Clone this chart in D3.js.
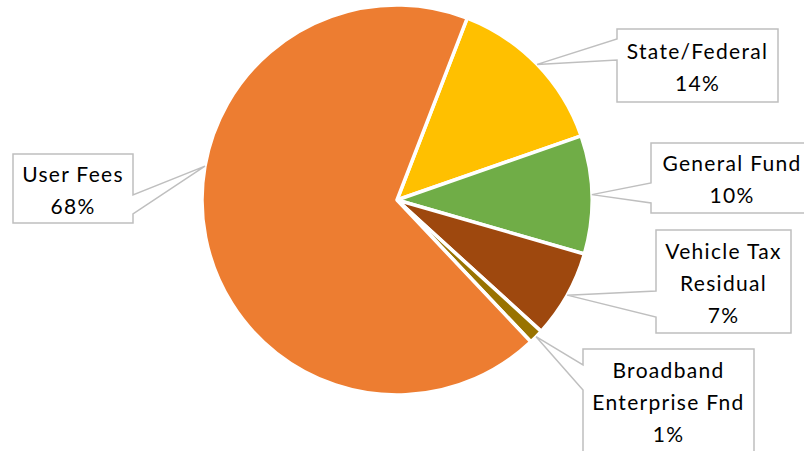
<!DOCTYPE html>
<html>
<head>
<meta charset="utf-8">
<script src="https://cdn.jsdelivr.net/npm/d3@7"></script>
<style>
	body { margin: 0; background: #fff; }
	svg { display: block; }
</style>
</head>
<body>
<svg id="chart" width="804" height="451"></svg>
<script>
// data, clockwise from the first slice
const categories = ["State/Federal", "General Fund", "Vehicle Tax Residual", "Broadband Enterprise Fnd", "User Fees"]
const values = [13.8, 9.8, 7.3, 1.2, 67.9]
const labelLines = [["State/Federal"], ["General Fund"], ["Vehicle Tax", "Residual"], ["Broadband", "Enterprise Fnd"], ["User Fees"]]
const colors = ["#FFC000", "#70AD47", "#9E480E", "#997300", "#ED7D31"]

// callout layout: box [x, y, w, h], which side the pointer leaves from, pointer base span, optional tip angle
const callouts = [
	{box: [617, 29, 161, 73], side: "left", base: [39, 60]},
	{box: [651, 143, 162, 70], side: "left", base: [183, 203]},
	{box: [656, 230, 135, 103], side: "left", base: [291, 317]},
	{box: [583, 349, 171, 120], side: "left", base: [365, 390], textMid: 402},
	{box: [13, 154, 120, 69], side: "right", base: [195, 214], tipAngle: 280}
]

const svg = d3.select("#chart"),
cx = 397, cy = 200, radius = 195,
lineH = 32,
rad = deg => deg * Math.PI / 180

const pie = d3.pie().sort(null).value(d => d.value).startAngle(rad(21.1)).endAngle(rad(21.1 + 360))
const arc = d3.arc().innerRadius(0).outerRadius(radius)
const total = d3.sum(values)
const slices = pie(categories.map((c, i) => ({name: c, value: values[i], lines: labelLines[i], color: colors[i], callout: callouts[i]})))

const g = svg.append("g").attr("transform", `translate(${cx},${cy})`)
g.selectAll("path")
	.data(slices)
	.enter().append("path")
	.attr("d", arc)
	.attr("fill", d => d.data.color)
	.attr("stroke", "#fff")
	.attr("stroke-width", 3.5)
	.attr("stroke-linejoin", "round")

// callout boxes with pointer
const labels = svg.append("g").selectAll("g")
	.data(slices)
	.enter().append("g")

labels.append("path")
	.attr("fill", "#fff")
	.attr("stroke", "#BFBFBF")
	.attr("stroke-width", 1.5)
	.attr("d", d => {
		const c = d.data.callout,
		[x, y, w, h] = c.box,
		ang = c.tipAngle !== undefined ? rad(c.tipAngle) : (d.startAngle + d.endAngle) / 2,
		tx = cx + radius * Math.sin(ang), ty = cy - radius * Math.cos(ang),
		p = d3.path()
		if (c.side === "left") {
			p.moveTo(x, c.base[0]); p.lineTo(x, y); p.lineTo(x + w, y); p.lineTo(x + w, y + h)
			p.lineTo(x, y + h); p.lineTo(x, c.base[1]); p.lineTo(tx, ty); p.closePath()
		} else {
			p.moveTo(x + w, c.base[0]); p.lineTo(x + w, y); p.lineTo(x, y); p.lineTo(x, y + h)
			p.lineTo(x + w, y + h); p.lineTo(x + w, c.base[1]); p.lineTo(tx, ty); p.closePath()
		}
		return p.toString()
	})

labels.append("text")
	.attr("text-anchor", "middle")
	.attr("font-family", "Lato, 'Open Sans', sans-serif")
	.attr("font-size", 21)
	.attr("letter-spacing", 1.3)
	.attr("fill", "#000")
	.each(function(d){
		const c = d.data.callout,
		[x, y, w, h] = c.box,
		lines = d.data.lines.concat([Math.round(d.data.value / total * 100) + "%"]),
		mid = c.textMid !== undefined ? c.textMid : y + h / 2 + 1.5,
		top = mid - (lines.length - 1) * lineH / 2
		d3.select(this).selectAll("tspan")
			.data(lines)
			.enter().append("tspan")
			.attr("x", x + w / 2)
			.attr("y", (l, i) => top + i * lineH)
			.attr("dy", "0.38em")
			.text(l => l)
	})
</script>
</body>
</html>
